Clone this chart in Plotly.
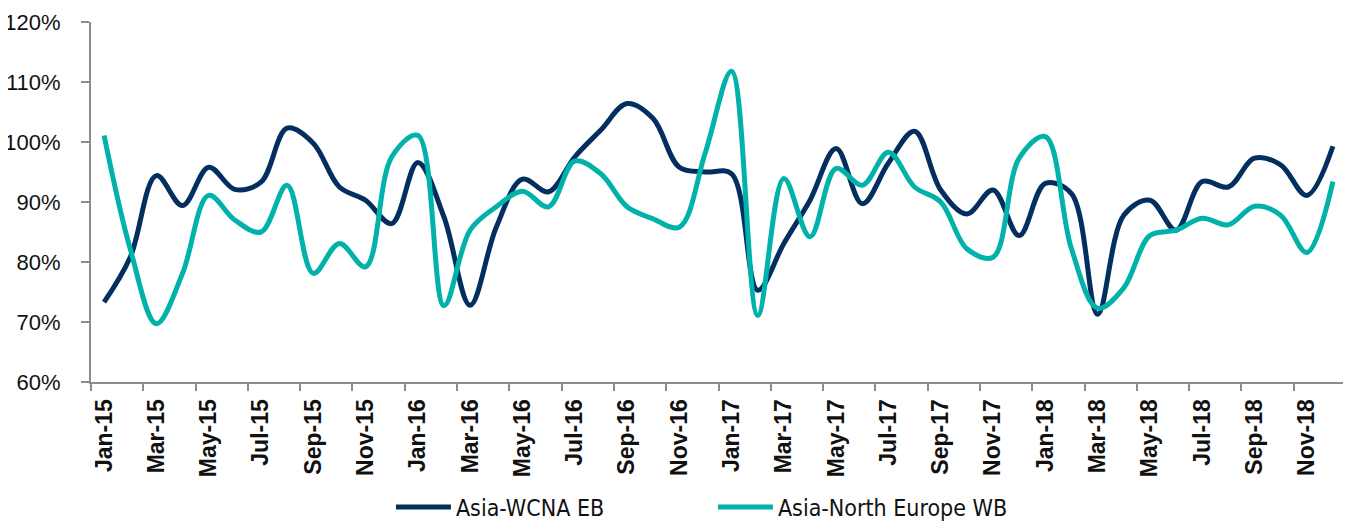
import plotly.graph_objects as go

months = [f"{m}-{y}" for y in ["15", "16", "17", "18"]
          for m in ["Jan", "Feb", "Mar", "Apr", "May", "Jun", "Jul", "Aug", "Sep", "Oct", "Nov", "Dec"]]

wcna_eb = [73.3, 80.8, 94.4, 89.4, 95.8, 92.1, 93.3, 102.3, 99.8, 92.5, 90.3, 86.4,
           96.6, 87.5, 72.8, 85.8, 93.8, 91.7, 97.5, 102.0, 106.4, 103.9, 95.8, 95.0,
           94.7, 75.3, 83.1, 90.3, 98.9, 89.7, 96.5, 101.8, 92.0, 88.0, 92.0, 84.4,
           93.1, 91.4, 71.3, 87.8, 90.3, 85.3, 93.4, 92.5, 97.3, 96.2, 91.1, 99.3]

neur_wb = [101.1, 82.2, 69.7, 78.1, 91.1, 87.0, 85.0, 92.8, 78.1, 83.1, 79.2, 97.5,
           101.1, 72.7, 85.3, 89.2, 91.8, 89.2, 96.8, 94.7, 89.2, 87.2, 85.8, 98.3,
           111.8, 71.1, 93.9, 84.2, 95.6, 92.8, 98.3, 92.5, 90.0, 82.2, 80.8, 97.3,
           100.9, 82.2, 72.3, 75.7, 84.4, 85.3, 87.3, 86.2, 89.3, 87.8, 81.6, 93.4]

series_names = ["Asia-WCNA EB", "Asia-North Europe WB"]
series_colors = ["#022F60", "#00B2AA"]

fig = go.Figure()
for name, vals, col in zip(series_names, [wcna_eb, neur_wb], series_colors):
    fig.add_trace(go.Scatter(
        x=months, y=vals, name=name, mode="lines",
        line=dict(color=col, width=5, shape="spline", smoothing=1.0),
    ))

axis_gray = "#8C8C8C"
# page body has an 8px default margin, so the figure is sized to fit the window
fig.update_layout(
    width=1343, height=515,
    margin=dict(l=83, r=5, t=14, b=141, autoexpand=False),
    paper_bgcolor="white", plot_bgcolor="white",
    font=dict(family="Liberation Sans, Arial, sans-serif", color="#111111"),
    showlegend=True,
    legend=dict(
        orientation="h", x=0.239, xanchor="left",
        yref="container", y=0.031, yanchor="middle",
        font=dict(family="DejaVu Sans Condensed, Liberation Sans Narrow, Liberation Sans, sans-serif",
                  size=23, color="#111111"),
        itemwidth=55, entrywidth=252, traceorder="normal",
    ),
)
fig.update_xaxes(
    type="category", range=[-0.5, 47.5], dtick=2, tickson="boundaries",
    ticks="outside", ticklen=7, tickwidth=2, tickcolor=axis_gray,
    showline=True, linecolor=axis_gray, linewidth=2, automargin=False,
    showgrid=False, zeroline=False, tickangle=-90, ticklabelstandoff=6,
    tickfont=dict(family="Liberation Sans, Arial, sans-serif", size=23, weight="bold", color="#111111"),
)
fig.update_yaxes(
    range=[60, 120], dtick=10, ticksuffix="%",
    ticks="outside", ticklen=8, tickwidth=2, tickcolor=axis_gray,
    showline=True, linecolor=axis_gray, linewidth=2, automargin=False,
    showgrid=False, zeroline=False, ticklabelstandoff=16,
    tickfont=dict(family="Liberation Sans, Arial, sans-serif", size=22, color="#111111"),
)

fig.write_html("out.html")
